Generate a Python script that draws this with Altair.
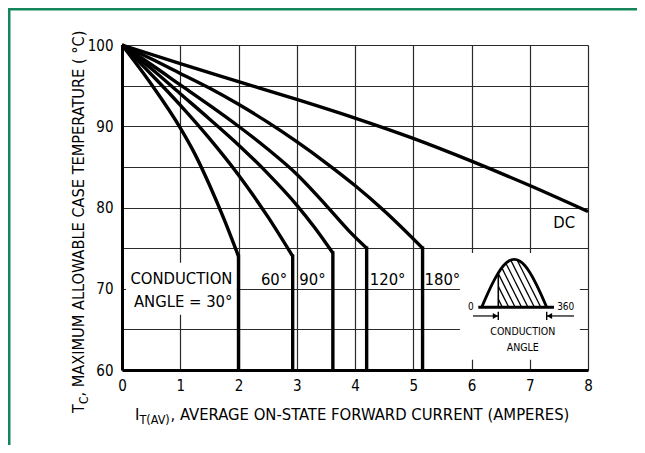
import altair as alt
import pandas as pd
import numpy as np

FONT = "DejaVu Sans Condensed, DejaVu Sans, sans-serif"

# ---- axes ----
x_ticks = [0, 1, 2, 3, 4, 5, 6, 7, 8]
y_grid = [60, 65, 70, 75, 80, 85, 90, 95, 100]

# ---- curves (I in A, Tc in degC); each ends at a knee ----
c30_i = [0, 0.5, 1.0, 1.25, 1.5, 1.75, 2.0]
c30_t = [100, 95.2, 89.8, 86.6, 82.8, 78.6, 74.0]
c60_i = [0, 0.5, 1.0, 1.5, 2.0, 2.5, 2.93]
c60_t = [100, 96.4, 92.6, 88.5, 84.0, 78.9, 74.0]
c90_i = [0, 0.5, 1.0, 1.5, 2.0, 2.5, 3.0, 3.3, 3.62]
c90_t = [100, 97.1, 94.0, 90.9, 87.7, 84.2, 80.3, 77.6, 74.4]
c120_i = [0, 0.5, 1.0, 1.5, 2.0, 2.5, 3.0, 3.5, 3.9, 4.2]
c120_t = [100, 97.6, 95.1, 92.6, 90.0, 87.2, 84.1, 80.3, 77.1, 75.0]
c180_i = [0, 0.5, 1.0, 1.5, 2.0, 2.5, 3.0, 3.5, 4.0, 4.5, 5.16]
c180_t = [100, 98.3, 96.5, 94.7, 92.7, 90.5, 88.1, 85.5, 82.7, 79.6, 75.0]
cdc_i = [0, 1, 2, 3, 4, 5, 6, 7, 8]
cdc_t = [100, 97.7, 95.5, 93.3, 91.0, 88.5, 85.7, 82.7, 79.5]

# vertical drops from each knee down to 60 degC
drop_i = [2.0, 2.93, 3.62, 4.2, 5.16]
drop_t = [74.0, 74.0, 74.4, 75.0, 75.0]
drop_end = 60

series = [("30", c30_i, c30_t), ("60", c60_i, c60_t), ("90", c90_i, c90_t),
          ("120", c120_i, c120_t), ("180", c180_i, c180_t), ("DC", cdc_i, cdc_t)]

rows = []
for name, xs_, ys_ in series:
    for k, (a, b) in enumerate(zip(xs_, ys_)):
        rows.append({"series": name, "order": k, "I": a, "T": b})
curves = pd.DataFrame(rows)
drops = pd.DataFrame({"I": drop_i, "T": drop_t, "T2": [drop_end] * len(drop_i)})

# ---- labels ----
lab_text = ["CONDUCTION", "ANGLE = 30°", "60°", "90°", "120°", "180°", "DC"]
lab_x = [1.02, 1.05, 2.61, 3.27, 4.56, 5.50, 7.59]
lab_y = [70.55, 67.8, 70.5, 70.5, 70.5, 70.5, 77.45]
labels = pd.DataFrame({"t": lab_text, "I": lab_x, "T": lab_y})

# white masks over the grid: label block and inset block
mask = pd.DataFrame({"I": [0.07, 5.80], "I2": [1.97, 7.86],
                     "T": [66.8, 61.25], "T2": [73.2, 74.4]})

# ---- inset icon (half-wave with conduction angle) ----
wave_x = [6.175, 6.268, 6.361, 6.454, 6.547, 6.640, 6.733, 6.826, 6.919, 7.012, 7.105, 7.198, 7.291]
wave_y = [67.72, 69.25, 70.67, 71.89, 72.83, 73.42, 73.62, 73.42, 72.83, 71.89, 70.67, 69.25, 67.72]
icon_base_y = 67.72
icon_base_x = [6.117, 7.416]
fire_x = 6.46
hatch_base = [6.53, 6.64, 6.75, 6.86, 6.97, 7.08, 7.19, 7.30]
hatch_lean = 0.07   # x shift per degree of height

wave = pd.DataFrame({"I": wave_x, "T": wave_y})
fire_top = float(np.interp(fire_x, wave_x, wave_y))

hrows = []
for xb in hatch_base:
    h = np.linspace(0, 6.5, 1301)
    x = xb - hatch_lean * h
    y = icon_base_y + h
    top = np.interp(x, wave_x, wave_y, left=icon_base_y, right=icon_base_y)
    ok = (x >= fire_x) & (x <= wave_x[-1]) & (y <= top)
    if ok.any():
        idx = np.where(ok)[0]
        hrows.append({"I": x[idx[0]], "T": y[idx[0]], "I2": x[idx[-1]], "T2": y[idx[-1]]})
hatch = pd.DataFrame(hrows)

icon_rules = pd.DataFrame({
    "I":  [icon_base_x[0], fire_x, 6.026, 7.760, fire_x, wave_x[-1]],
    "I2": [icon_base_x[1], fire_x, fire_x, wave_x[-1], fire_x, wave_x[-1]],
    "T":  [icon_base_y, icon_base_y, 66.65, 66.65, 67.18, 67.18],
    "T2": [icon_base_y, fire_top, 66.65, 66.65, 66.15, 66.15],
    "w":  [2.8, 1.6, 1.2, 1.2, 1.4, 1.4],
})
arrows = pd.DataFrame({"I": [6.41, 7.34], "T": [66.65, 66.65],
                       "shape": ["triangle-right", "triangle-left"]})
icon_text_c = pd.DataFrame({"t": ["CONDUCTION", "ANGLE"], "I": [6.88, 6.88], "T": [64.3, 62.37]})
icon_text_l = pd.DataFrame({"t": ["360"], "I": [7.47], "T": [67.38]})
icon_text_r = pd.DataFrame({"t": ["0"], "I": [6.04], "T": [67.38]})

# ---- scales / axes ----
xs = alt.Scale(domain=[0, 8], nice=False, zero=False)
ys = alt.Scale(domain=[60, 100], nice=False, zero=False)
xaxis = alt.Axis(values=x_ticks, grid=True, gridColor="#2a2a2a", gridWidth=1.2,
                 domainColor="black", domainWidth=3, ticks=False, title=None,
                 labelFont=FONT, labelFontSize=15, labelColor="black",
                 labelPadding=8, labelFlush=False, labelOverlap=False)
yaxis = alt.Axis(values=y_grid, grid=True, gridColor="#2a2a2a", gridWidth=1.2,
                 domainColor="black", domainWidth=3, ticks=False, title=None,
                 labelFont=FONT, labelFontSize=15, labelColor="black",
                 labelPadding=9, labelOverlap=False,
                 labelExpr="datum.value % 10 == 0 ? datum.label : ''")


def X(f):
    return alt.X(f, type="quantitative", scale=xs, axis=xaxis)


def Y(f):
    return alt.Y(f, type="quantitative", scale=ys, axis=yaxis)


masks = alt.Chart(mask).mark_rect(color="white").encode(
    x=X("I"), x2="I2", y=Y("T"), y2="T2")

lines = alt.Chart(curves).mark_line(color="black", strokeWidth=3.4,
                                    interpolate="monotone").encode(
    x=X("I"), y=Y("T"), detail="series:N", order="order:Q")

drop_l = alt.Chart(drops).mark_rule(color="black", strokeWidth=3.4, strokeCap="square").encode(
    x=X("I"), y=Y("T"), y2="T2")

texts = alt.Chart(labels).mark_text(font=FONT, fontSize=16.5, color="black",
                                     align="center", baseline="alphabetic").encode(
    x=X("I"), y=Y("T"), text="t:N")

wave_l = alt.Chart(wave).mark_line(color="black", strokeWidth=2.8,
                                   interpolate="monotone").encode(x=X("I"), y=Y("T"))
hatch_l = alt.Chart(hatch).mark_rule(color="black", strokeWidth=1.3).encode(
    x=X("I"), y=Y("T"), x2="I2", y2="T2")
icon_r = alt.Chart(icon_rules).mark_rule(color="black").encode(
    x=X("I"), y=Y("T"), x2="I2", y2="T2",
    strokeWidth=alt.StrokeWidth("w:Q", scale=None, legend=None))
arrow_p = alt.Chart(arrows).mark_point(filled=True, color="black", size=35, opacity=1).encode(
    x=X("I"), y=Y("T"), shape=alt.Shape("shape:N", scale=None, legend=None))
itc = alt.Chart(icon_text_c).mark_text(font=FONT, fontSize=10.5, color="black",
                                        align="center", baseline="alphabetic").encode(
    x=X("I"), y=Y("T"), text="t:N")
itl = alt.Chart(icon_text_l).mark_text(font=FONT, fontSize=10, color="black",
                                        align="left", baseline="alphabetic").encode(
    x=X("I"), y=Y("T"), text="t:N")
itr = alt.Chart(icon_text_r).mark_text(font=FONT, fontSize=10, color="black",
                                        align="right", baseline="alphabetic").encode(
    x=X("I"), y=Y("T"), text="t:N")

# ---- axis titles built from text pieces (subscripts) ----
one = pd.DataFrame({"t": ["x"]})


def piece(txt, px, py, size, angle=0):
    return alt.Chart(pd.DataFrame({"t": [txt]})).mark_text(
        font=FONT, fontSize=size, color="black", align="left",
        baseline="alphabetic", angle=angle).encode(
        x=alt.value(px), y=alt.value(py), text="t:N")


xt1 = piece("I", 13, 374.5, 16.5)
xt2 = piece("T(AV)", 17.5, 378.5, 12.5)
xt3 = piece(", AVERAGE ON-STATE FORWARD CURRENT (AMPERES)", 48.5, 374.5, 16.5)
yt1 = piece("T", -38, 368, 16, 270)
yt2 = piece("C", -34.5, 359, 12, 270)
yt3 = piece(", MAXIMUM ALLOWABLE CASE TEMPERATURE ( °C)", -38, 351.5, 16.2, 270)

green = "#14865a"
bl = alt.Chart(one).mark_rule(color=green, strokeWidth=2.5).encode(
    x=alt.value(-112.75), y=alt.value(-37), y2=alt.value(400))
bt = alt.Chart(one).mark_rule(color=green, strokeWidth=2.5).encode(
    x=alt.value(-114), x2=alt.value(515), y=alt.value(-35.75))

chart = alt.layer(
    masks, lines, drop_l, texts, wave_l, hatch_l, icon_r, arrow_p, itc, itl, itr,
    xt1, xt2, xt3, yt1, yt2, yt3, bl, bt
).properties(
    width=466, height=325,
    autosize=alt.AutoSizeParams(type="none"),
    padding={"left": 114, "top": 37, "right": 49, "bottom": 75},
    background="white",
).configure_view(stroke="transparent")

chart.save("out.html", embed_options={"renderer": "svg", "actions": False})
